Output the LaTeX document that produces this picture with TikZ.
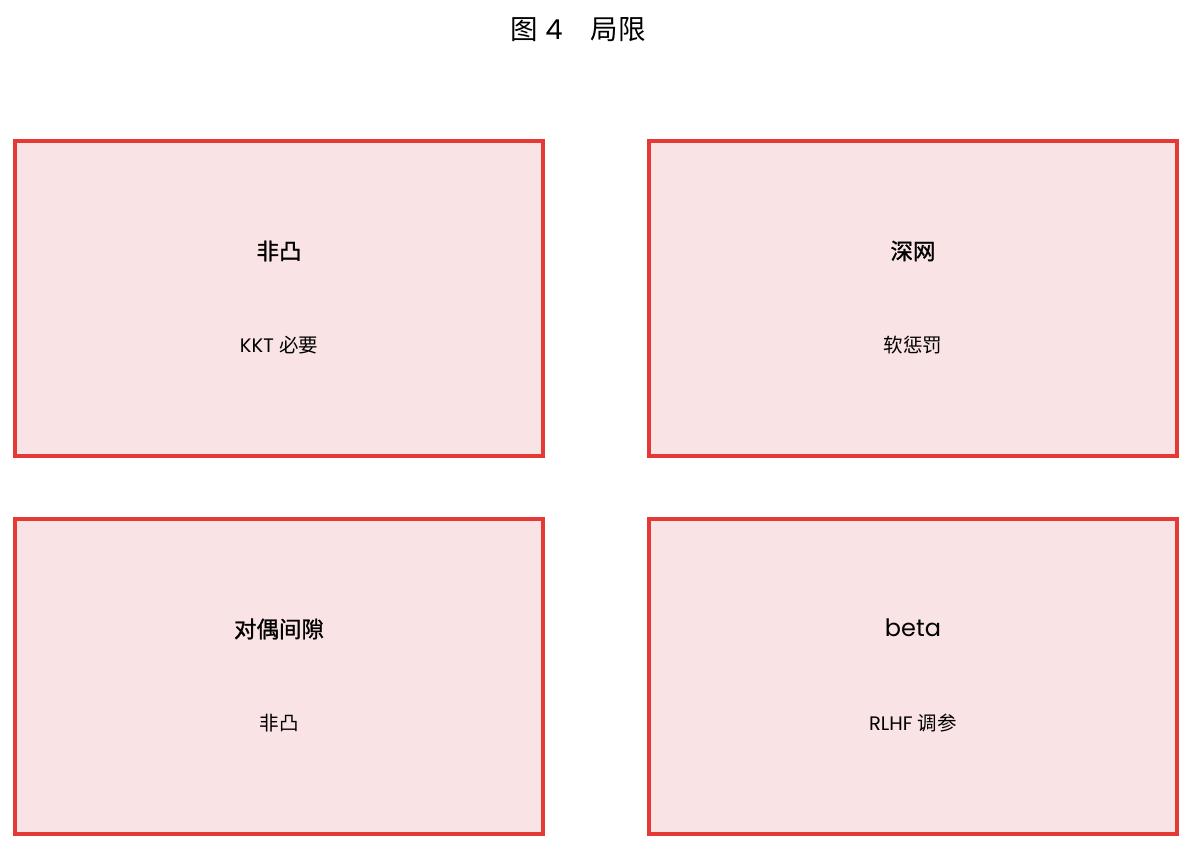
\documentclass[tikz,border=0pt]{standalone}
\usepackage{fontspec}
\setmainfont{Poppins}
\newfontfamily\cjk{Noto Sans CJK SC}
\newfontfamily\cjkmed[FakeBold=1.2]{Noto Sans CJK SC}
\definecolor{boxred}{RGB}{229,57,53}
\definecolor{boxfill}{RGB}{249,227,228}
\tikzset{
  panel/.style={draw=boxred, fill=boxfill, line width=4pt, minimum width=528pt, minimum height=315pt, inner sep=0pt},
  mainlbl/.style={font=\fontsize{22.5}{26}\selectfont, text=black, inner sep=0pt},
  sublbl/.style={font=\fontsize{19.5}{23}\selectfont, text=black, inner sep=0pt},
  titlelbl/.style={font=\fontsize{27.5}{32}\selectfont, text=black, inner sep=0pt}
}
\begin{document}
\begin{tikzpicture}[x=1pt,y=-1pt]
\useasboundingbox[fill=white] (0,0) rectangle (1192,849);
\node[titlelbl] (title) at (578,30) {{\cjk 图} 4\hspace{28pt}{\cjk 局限}};
\node[panel] (p1) at (279,298.5) {};
\node[panel] (p2) at (913,298.5) {};
\node[panel] (p3) at (279,676.5) {};
\node[panel] (p4) at (913,676.5) {};
\node[mainlbl] (m1) at (279,251) {\cjkmed 非凸};
\node[sublbl] (s1) at (279,345) {KKT {\cjk 必要}};
\node[mainlbl] (m2) at (913,251) {\cjkmed 深网};
\node[sublbl] (s2) at (913,345) {\cjk 软惩罚};
\node[mainlbl] (m3) at (279,629) {\cjkmed 对偶间隙};
\node[sublbl] (s3) at (279,723) {\cjk 非凸};
\node[mainlbl,font=\fontsize{24}{28}\selectfont] (m4) at (913,628) {beta};
\node[sublbl] (s4) at (913,723) {RLHF {\cjk 调参}};
\end{tikzpicture}
\end{document}
